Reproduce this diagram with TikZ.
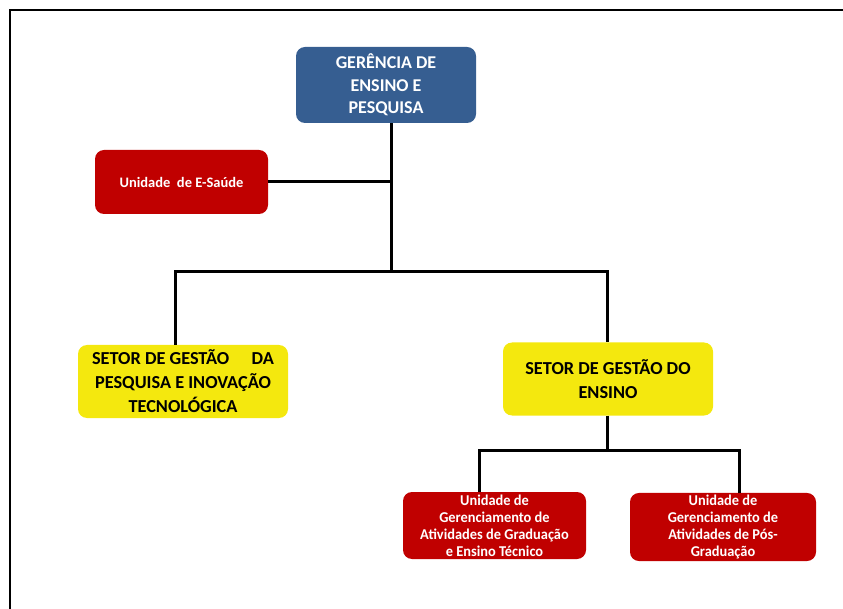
\documentclass[tikz,border=0pt]{standalone}
\usepackage{fontspec}
\setmainfont{Carlito}
\newfontfamily\narrowfont[FakeStretch=0.96]{Carlito}
\usepackage{tikz}
\usetikzlibrary{positioning}

\definecolor{gerblue}{RGB}{54,94,145}
\definecolor{unired}{RGB}{192,0,0}
\definecolor{setyellow}{RGB}{244,232,14}

\begin{document}
\begin{tikzpicture}[x=1pt,y=-1pt]
\useasboundingbox (0,0) rectangle (843,609);

\tikzstyle{box}=[rounded corners=9pt,align=center,inner sep=2pt,font=\bfseries]
\tikzstyle{gerbox}=[box,fill=gerblue,text=white,minimum width=180pt,minimum height=76pt,font=\bfseries\fontsize{18}{22.5}\selectfont]
\tikzstyle{setbox}=[box,fill=setyellow,text=black,minimum width=210pt,minimum height=73pt,font=\bfseries\fontsize{18.3}{24}\selectfont]
\tikzstyle{unibox}=[box,fill=unired,text=white]
\tikzstyle{conn}=[draw,black,line width=3pt]

% frame
\draw[line width=1.5pt] (10,620) -- (10,10) -- (860,10);

% boxes
\node (ger) [gerbox] at (386,85) {GERÊNCIA DE\\ENSINO E\\PESQUISA};
\node (esaude) [unibox,minimum width=173pt,minimum height=64pt,font=\bfseries\fontsize{14.5}{16}\selectfont] at (181.5,182) {Unidade~ de E-Saúde};
\node (pesq) [setbox] at (183,381.5) {SETOR DE GESTÃO\quad\ DA\\PESQUISA E INOVAÇÃO\\TECNOLÓGICA};
\node (ens) [setbox] at (608,379) {SETOR DE GESTÃO DO\\ENSINO};
\node (grad) [unibox,minimum width=183pt,minimum height=67pt,font=\narrowfont\bfseries\fontsize{15}{17}\selectfont] at (494.5,525.5) {Unidade de\\Gerenciamento de\\Atividades de Graduação\\e Ensino Técnico};
\node (pos) [unibox,minimum width=186pt,minimum height=64pt,font=\narrowfont\bfseries\fontsize{15}{17}\selectfont] at (723,527) {Unidade de\\Gerenciamento de\\Atividades de Pós-\\Graduação};

% connectors
\coordinate (hub) at (391,272);
\coordinate (hubb) at (607,450);

\draw[conn] ([xshift=5pt]ger.south) -- (hub);
\draw[conn] (esaude.east) -- (esaude.east -| hub);
\draw[conn] ([xshift=-8pt]pesq.north) |- (hub) -| ([xshift=-1pt]ens.north);
\draw[conn] ([xshift=-1pt]ens.south) -- (hubb);
\draw[conn] ([xshift=-15pt]grad.north) |- (hubb) -| ([xshift=16pt]pos.north);
\end{tikzpicture}
\end{document}
